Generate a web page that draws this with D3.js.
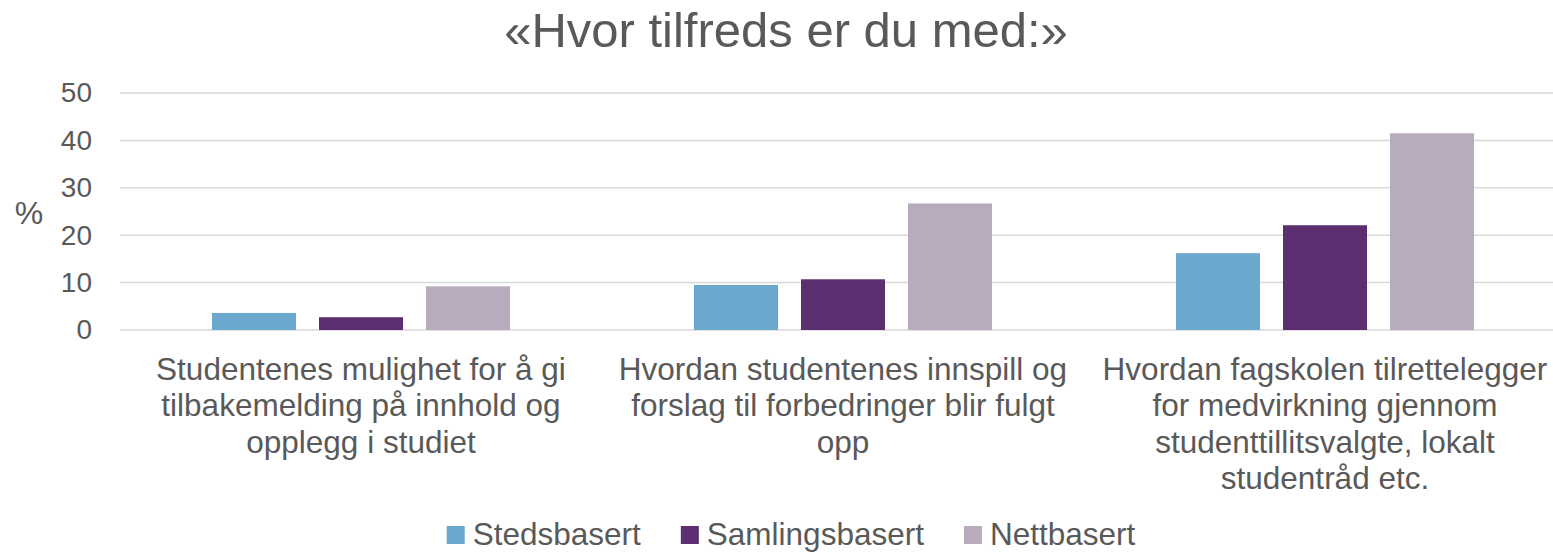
<!DOCTYPE html>
<html>
<head>
<meta charset="utf-8">
<script src="https://cdn.jsdelivr.net/npm/d3@7/dist/d3.min.js"></script>
<style>
  body { margin: 0; background: #fff; }
  svg text { font-family: "Liberation Sans", Arial, sans-serif; fill: #595959; }
</style>
</head>
<body>
<div id="chart"></div>
<script>
// data
var categories = ["c1", "c2", "c3"];
var categoryLines = [
    ["Studentenes mulighet for å gi", "tilbakemelding på innhold og", "opplegg i studiet"],
    ["Hvordan studentenes innspill og", "forslag til forbedringer blir fulgt", "opp"],
    ["Hvordan fagskolen tilrettelegger", "for medvirkning gjennom", "studenttillitsvalgte, lokalt", "studentråd etc."]
];
var seriesNames = ["Stedsbasert", "Samlingsbasert", "Nettbasert"];
var seriesColors = ["#6ca7cd", "#5d2f71", "#b8abbd"];
var stedsbasert = [3.6, 9.5, 16.2];
var samlingsbasert = [2.7, 10.7, 22.1];
var nettbasert = [9.2, 26.7, 41.5];
var yTicks = [0, 10, 20, 30, 40, 50];

var values = [stedsbasert, samlingsbasert, nettbasert];

var W = 1553, H = 554;
var margin = {top: 93, left: 120, bottom: 224};

var svg = d3.select("#chart").append("svg")
    .attr("width", W)
    .attr("height", H);

// band is 482px, plot runs off the right edge like in the picture
var x0 = d3.scaleBand()
    .domain(categories)
    .range([margin.left, margin.left + 3 * 482])
    .padding(0);

var x1 = d3.scaleBand()
    .domain(seriesNames)
    .range([92, 390])
    .paddingInner(0.215)
    .paddingOuter(0);

var y = d3.scaleLinear()
    .domain([0, 50])
    .range([330, 93]);

// gridlines
svg.append("g")
    .selectAll("line")
    .data(yTicks)
    .enter().append("line")
    .attr("x1", margin.left)
    .attr("x2", W)
    .attr("y1", function(d){ return y(d); })
    .attr("y2", function(d){ return y(d); })
    .attr("stroke", "#d9d9d9")
    .attr("stroke-width", 1.5);

// y axis labels
var yAxis = d3.axisLeft(y).tickValues(yTicks).tickSize(0).tickPadding(28);
var gY = svg.append("g")
    .attr("transform", "translate(" + margin.left + ",0)")
    .call(yAxis);
gY.select(".domain").remove();
gY.selectAll("text")
    .style("font-size", "28px")
    .attr("fill", "#595959")
    .style("font-family", "Liberation Sans, Arial, sans-serif");

svg.append("text")
    .attr("x", 29)
    .attr("y", 224)
    .attr("text-anchor", "middle")
    .style("font-size", "32px")
    .text("%");

// bars
var groups = svg.selectAll(".grp")
    .data(categories)
    .enter().append("g")
    .attr("class", "grp")
    .attr("transform", function(d){ return "translate(" + x0(d) + ",0)"; });

groups.selectAll("rect")
    .data(function(d, i){
        return seriesNames.map(function(s, j){ return {s: s, v: values[j][i], c: seriesColors[j]}; });
    })
    .enter().append("rect")
    .attr("x", function(d){ return x1(d.s); })
    .attr("y", function(d){ return y(d.v); })
    .attr("width", x1.bandwidth())
    .attr("height", function(d){ return y(0) - y(d.v); })
    .attr("fill", function(d){ return d.c; });

// category labels
groups.append("text")
    .attr("text-anchor", "middle")
    .style("font-size", "31.5px")
    .selectAll("tspan")
    .data(function(d, i){ return categoryLines[i]; })
    .enter().append("tspan")
    .attr("x", x0.bandwidth() / 2)
    .attr("y", function(d, i){ return 380 + i * 36.3; })
    .text(function(d){ return d; });

// title
svg.append("text")
    .attr("x", 786)
    .attr("y", 47)
    .attr("text-anchor", "middle")
    .style("font-size", "49px")
    .text("«Hvor tilfreds er du med:»");

// legend
var legend = svg.append("g");
var lx = 0, gap = 40;
seriesNames.forEach(function(s, j){
    var item = legend.append("g").attr("transform", "translate(" + lx + ",0)");
    item.append("rect")
        .attr("x", 0).attr("y", -19)
        .attr("width", 18).attr("height", 18)
        .attr("fill", seriesColors[j]);
    var t = item.append("text")
        .attr("x", 26)
        .attr("y", 0)
        .style("font-size", "31.5px")
        .text(s);
    lx += 26 + t.node().getComputedTextLength() + gap;
});
lx -= gap;
legend.attr("transform", "translate(" + (791 - lx / 2) + ",545)");
</script>
</body>
</html>
